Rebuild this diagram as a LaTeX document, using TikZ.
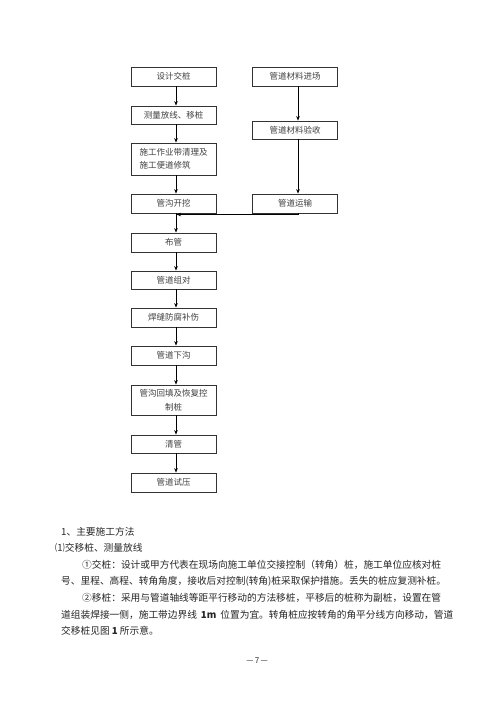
\documentclass[tikz,border=0pt]{standalone}
\usepackage{fontspec}
\setmainfont{Noto Sans CJK SC}
\usetikzlibrary{arrows.meta}
\XeTeXlinebreaklocale "zh"
\XeTeXlinebreakskip=0pt plus 1pt
\begin{document}
\begin{tikzpicture}[x=1pt,y=-1pt,
  box/.style={draw=black!80, line width=0.8pt, rectangle, minimum width=85pt, inner sep=0pt, font=\fontsize{8.5}{13}\selectfont, text=black!75},
  arr/.style={draw=black, line width=0.9pt, -{Stealth[length=4.5pt,width=3.6pt]}},
  body/.style={anchor=west, inner sep=0pt, font=\fontsize{9.7}{12}\selectfont, text=black!85}]
\useasboundingbox (0,0) rectangle (500,707);
\fill[white] (0,0) rectangle (500,707);
% left column
\node[box, minimum height=19pt] (A) at (173.5,76.5) {设计交桩};
\node[box, minimum height=18pt] (B) at (173.5,115) {测量放线、移桩};
\node[box, minimum height=32pt, align=left] (C) at (173.5,159) {施工作业带清理及\\施工便道修筑};
\node[box, minimum height=19pt] (D) at (173.5,203.5) {管沟开挖};
\node[box, minimum height=19pt] (E) at (173.5,242.5) {布管};
\node[box, minimum height=18pt] (F) at (173.5,280) {管道组对};
\node[box, minimum height=19pt] (G) at (173.5,317.5) {焊缝防腐补伤};
\node[box, minimum height=19pt] (H) at (173.5,355.5) {管道下沟};
\node[box, minimum height=30pt, align=center, font=\fontsize{8.5}{14}\selectfont] (I) at (173.5,400) {管沟回填及恢复控\\制桩};
\node[box, minimum height=18pt] (J) at (173.5,444) {清管};
\node[box, minimum height=19pt] (K) at (173.5,482.5) {管道试压};
% right column
\node[box, minimum height=19pt] (R1) at (295,76.5) {管道材料进场};
\node[box, minimum height=18pt] (R2) at (295,130) {管道材料验收};
\node[box, minimum height=19pt] (R3) at (295,203.5) {管道运输};
% arrows left
\foreach \a/\b in {A/B,B/C,C/D,D/E,E/F,F/G,G/H,H/I,I/J,J/K}
  \draw[arr] ([xshift=2.5pt]\a.south) -- ([xshift=2.5pt]\b.north);
% arrows right
\draw[arr] ([xshift=3pt]R1.south) -- ([xshift=3pt]R2.north);
\draw[arr] ([xshift=3pt]R2.south) -- ([xshift=3pt]R3.north);
\coordinate (jn) at (176.6,214.5);
\draw[arr] ([xshift=3pt]R3.south) |- (jn);
% body text
\node[body] (t1) at (61,532) {1、主要施工方法};
\node[body] (t2) at (55,548) {⑴交移桩、测量放线};
\node[body] (t3) at (82,565) {\makebox[371pt][s]{①交桩：设计或甲方代表在现场向施工单位交接控制（转角）桩，施工单位应核对桩}};
\node[body] (t4) at (61,581.5) {\makebox[392pt][s]{号、里程、高程、转角角度，接收后对控制(转角)桩采取保护措施。丢失的桩应复测补桩。}};
\node[body] (t5) at (82,598) {\makebox[371pt][s]{②移桩：采用与管道轴线等距平行移动的方法移桩，平移后的桩称为副桩，设置在管}};
\node[body] (t6) at (61,615) {\makebox[392pt][s]{道组装焊接一侧，施工带边界线 \textbf{1m} 位置为宜。转角桩应按转角的角平分线方向移动，管道}};
\node[body] (t7) at (61,631) {交移桩见图 \textbf{1} 所示意。};
\node[inner sep=0pt, font=\fontsize{8}{10}\selectfont, text=black!85] (pg) at (257,661) {—\,7\,—};
\end{tikzpicture}
\end{document}
